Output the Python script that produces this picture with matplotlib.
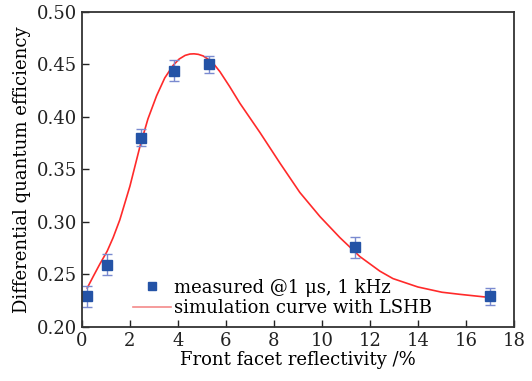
import matplotlib
matplotlib.use("Agg")
import matplotlib.pyplot as plt
from matplotlib.lines import Line2D

# measured points
meas_x = [0.2, 1.05, 2.46, 3.83, 5.3, 11.38, 17.0]
meas_y = [0.229, 0.259, 0.380, 0.444, 0.450, 0.276, 0.229]
meas_err = [0.010, 0.010, 0.008, 0.010, 0.008, 0.010, 0.008]

# simulation curve
sim_x = [0.22, 0.47, 0.75, 1.05, 1.3, 1.58, 1.79, 2.0, 2.42, 2.75, 3.11, 3.45, 3.8,
         4.05, 4.3, 4.5, 4.67, 4.85, 5.05, 5.25, 5.47, 5.75, 6.15, 6.58, 7.0, 7.42,
         8.25, 9.08, 9.92, 10.75, 11.58, 12.42, 12.96, 14.0, 15.0, 15.75, 17.0]
sim_y = [0.237, 0.248, 0.260, 0.272, 0.285, 0.302, 0.318, 0.334, 0.372, 0.398, 0.420,
         0.437, 0.449, 0.455, 0.4585, 0.4598, 0.460, 0.4595, 0.458, 0.455, 0.451,
         0.443, 0.429, 0.413, 0.399, 0.385, 0.356, 0.328, 0.305, 0.285, 0.267,
         0.253, 0.246, 0.238, 0.233, 0.231, 0.228]

xticks = [0, 2, 4, 6, 8, 10, 12, 14, 16, 18]
yticks = [0.20, 0.25, 0.30, 0.35, 0.40, 0.45, 0.50]

plt.rcParams["font.family"] = "DejaVu Serif"

fig = plt.figure(figsize=(5.32, 3.81), dpi=100)
ax = fig.add_axes([0.154, 0.142, 0.812, 0.827])

ax.plot(sim_x, sim_y, color="#ff2a2a", linewidth=1.2)
ax.errorbar(meas_x, meas_y, yerr=meas_err, fmt="none", ecolor="#7a8ad0",
            elinewidth=1.0, capsize=3.5, capthick=1.0)
ax.plot(meas_x, meas_y, "s", color="#2453a6", markersize=7, linestyle="none")

ax.set_xlim(0, 18)
ax.set_ylim(0.20, 0.50)
ax.set_xticks(xticks)
ax.set_yticks(yticks)
ax.set_yticklabels([f"{v:.2f}" for v in yticks])
ax.tick_params(direction="in", length=5, width=1.0, labelsize=13,
               top=False, right=False, colors="#222222")
for s in ax.spines.values():
    s.set_linewidth(1.3)
    s.set_color("#333333")

ax.set_xlabel("Front facet reflectivity /%", fontsize=13, labelpad=1)
ax.set_ylabel("Differential quantum efficiency", fontsize=13, labelpad=4)

handles = [
    Line2D([], [], marker="s", color="#2453a6", linestyle="none", markersize=6),
    Line2D([], [], color="#f48a8a", linewidth=1.2),
]
ax.legend(handles, ["measured @1 μs, 1 kHz", "simulation curve with LSHB"],
          loc="lower left", bbox_to_anchor=(0.09, -0.01), frameon=False,
          fontsize=13, handlelength=2.1, handletextpad=0.15, labelspacing=0.15,
          borderpad=0.2)

fig.savefig("out.png", dpi=100)
